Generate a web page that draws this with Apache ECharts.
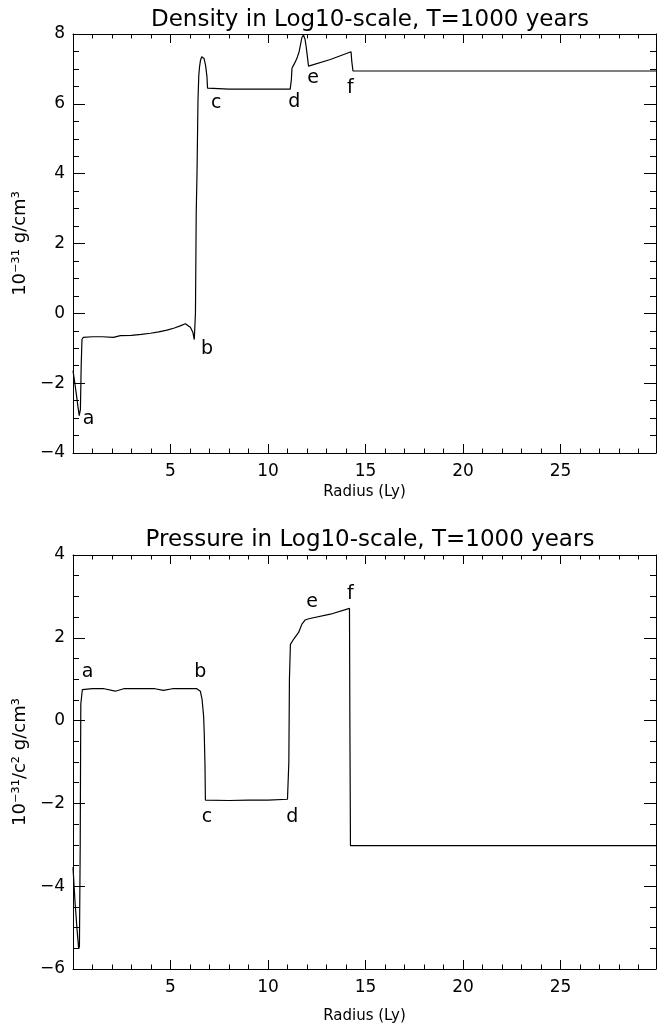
<!DOCTYPE html>
<html>
<head>
<meta charset="utf-8">
<title>Density and Pressure in Log10-scale</title>
<script src="https://cdn.jsdelivr.net/npm/echarts@6/dist/echarts.min.js"></script>
<style>
  html, body { margin: 0; padding: 0; background: #fff; }
  #box { width: 658px; height: 1028px; }
</style>
</head>
<body>
<div id="box"></div>
<script>
// radius (Ly) and log10 density
var densityR = [0, 0.08, 0.18, 0.26, 0.32, 0.38, 0.42, 0.46, 0.52, 0.62, 1.0, 1.5, 2.07, 2.43, 3.0, 3.5, 3.97, 4.4, 4.82, 5.2, 5.5, 5.76, 6.02, 6.15, 6.22, 6.25, 6.28, 6.32, 6.36, 6.41, 6.45, 6.49, 6.54, 6.6, 6.65, 6.72, 6.8, 6.87, 6.9, 6.95, 8, 9, 10, 11.14, 11.2, 11.23, 11.27, 11.38, 11.49, 11.6, 11.74, 11.82, 11.9, 11.96, 12.08, 13.2, 14.26, 14.3, 14.36, 20, 29.9];
var densityV = [-1.64, -1.95, -2.35, -2.7, -2.93, -2.75, -1.5, -0.75, -0.69, -0.68, -0.67, -0.67, -0.69, -0.64, -0.63, -0.6, -0.57, -0.53, -0.48, -0.42, -0.36, -0.3, -0.4, -0.55, -0.75, -0.78, 0, 2.9, 4.0, 6.1, 6.8, 7.06, 7.25, 7.35, 7.38, 7.3, 7.1, 6.78, 6.45, 6.42, 6.42, 6.42, 6.42, 6.42, 6.7, 7.02, 7.07, 7.18, 7.31, 7.5, 7.9, 7.97, 7.85, 7.63, 7.08, 7.27, 7.49, 7.2, 6.94, 6.94, 6.94];

// radius (Ly) and log10 pressure
var pressureR = [0, 0.1, 0.2, 0.29, 0.33, 0.37, 0.4, 0.48, 1.0, 1.6, 2.17, 2.6, 3.5, 4.2, 4.64, 5.1, 5.8, 6.35, 6.53, 6.62, 6.7, 6.73, 6.77, 6.79, 6.87, 8, 9, 10, 11.0, 11.07, 11.1, 11.15, 11.32, 11.57, 11.74, 11.91, 12.09, 13.2, 14.18, 14.2, 14.23, 20, 29.9];
var pressureV = [-3.54, -4.35, -5.0, -5.51, -5.45, -3.0, 0.4, 0.75, 0.77, 0.77, 0.71, 0.77, 0.77, 0.77, 0.73, 0.77, 0.77, 0.77, 0.71, 0.51, 0.1, -0.29, -1.1, -1.92, -1.93, -1.93, -1.92, -1.92, -1.9, -1.0, 1.0, 1.84, 1.97, 2.13, 2.33, 2.43, 2.46, 2.57, 2.71, 0, -3.02, -3.02, -3.02];

// letter marks on each curve
var markLetters = ["a", "b", "c", "d", "e", "f"];
var densityMarkR = [0.8, 6.87, 7.35, 11.35, 12.32, 14.22];
var densityMarkV = [-3.02, -1.01, 6.02, 6.05, 6.74, 6.45];
var pressureMarkR = [0.75, 6.53, 6.87, 11.25, 12.26, 14.22];
var pressureMarkV = [1.17, 1.17, -2.32, -2.33, 2.86, 3.06];

var fontName = "DejaVu Sans";
var chart = echarts.init(document.getElementById("box"));

function zip(xs, ys) {
  var out = [];
  for (var i = 0; i < xs.length; i++) {
    out.push([xs[i], ys[i]]);
  }
  return out;
}

// real minus sign like the original plot
function tickText(v) {
  return String(v).replace("-", "\u2212");
}

// bottom + top x axes, ticks inside like the IDL box
function xAxes(grid, nameGap) {
  var base = {
    type: "value",
    gridIndex: grid,
    min: 0,
    max: 29.9,
    interval: 5,
    splitLine: { show: false },
    axisLine: { show: true, onZero: false, lineStyle: { color: "#000", width: 1 } },
    axisTick: { show: true, inside: true, length: 9, lineStyle: { color: "#000" } },
    minorTick: { show: true, splitNumber: 5, length: 4.5, lineStyle: { color: "#000" } },
  };
  var bottom = Object.assign({}, base, {
    position: "bottom",
    name: "Radius (Ly)",
    nameLocation: "middle",
    nameGap: nameGap,
    nameTextStyle: { fontFamily: fontName, fontSize: 15, color: "#000" },
    axisLabel: {
      showMinLabel: false,
      showMaxLabel: false,
      fontFamily: fontName,
      fontSize: 17,
      color: "#000",
      margin: 10,
    },
  });
  var top = Object.assign({}, base, {
    position: "top",
    axisLabel: { show: false },
  });
  return [bottom, top];
}

// left + right y axes
function yAxes(grid, min, max, name) {
  var base = {
    type: "value",
    gridIndex: grid,
    min: min,
    max: max,
    interval: 2,
    splitLine: { show: false },
    axisLine: { show: true, onZero: false, lineStyle: { color: "#000", width: 1 } },
    axisTick: { show: true, inside: true, length: 12, lineStyle: { color: "#000" } },
    minorTick: { show: true, splitNumber: 4, length: 6, lineStyle: { color: "#000" } },
  };
  var left = Object.assign({}, base, {
    position: "left",
    name: name,
    nameLocation: "middle",
    nameGap: 40,
    nameTextStyle: { fontFamily: fontName, fontSize: 18, color: "#000" },
    axisLabel: { fontFamily: fontName, fontSize: 17, color: "#000", margin: 8, formatter: tickText },
  });
  var right = Object.assign({}, base, {
    position: "right",
    axisLabel: { show: false },
  });
  return [left, right];
}

function curve(xi, yi, xs, ys) {
  return {
    type: "line",
    xAxisIndex: xi,
    yAxisIndex: yi,
    data: zip(xs, ys),
    symbol: "none",
    lineStyle: { color: "#000", width: 1.2 },
  };
}

function letters(xi, yi, xs, ys) {
  return {
    type: "scatter",
    xAxisIndex: xi,
    yAxisIndex: yi,
    data: zip(xs, ys),
    symbolSize: 0,
    itemStyle: { color: "#000" },
    label: {
      show: true,
      position: "inside",
      color: "#000",
      opacity: 1,
      fontFamily: fontName,
      fontSize: 19,
      formatter: function (p) {
        return markLetters[p.dataIndex];
      },
    },
  };
}

var titleStyle = { fontFamily: fontName, fontSize: 23, fontWeight: "normal", color: "#000" };

var option = {
  backgroundColor: "#fff",
  animation: false,
  title: [
    { text: "Density in Log10-scale, T=1000 years", left: 365, textAlign: "center", top: 4, textStyle: titleStyle },
    { text: "Pressure in Log10-scale, T=1000 years", left: 365, textAlign: "center", top: 524, textStyle: titleStyle },
  ],
  grid: [
    { left: 73, top: 34, width: 583, height: 419 },
    { left: 73, top: 555, width: 583, height: 414 },
  ],
  xAxis: xAxes(0, 32).concat(xAxes(1, 40)),
  yAxis: yAxes(0, -4, 8, "10⁻³¹ g/cm³").concat(yAxes(1, -6, 4, "10⁻³¹/c² g/cm³")),
  series: [
    curve(0, 0, densityR, densityV),
    letters(0, 0, densityMarkR, densityMarkV),
    curve(2, 2, pressureR, pressureV),
    letters(2, 2, pressureMarkR, pressureMarkV),
  ],
};
chart.setOption(option);
</script>
</body>
</html>
